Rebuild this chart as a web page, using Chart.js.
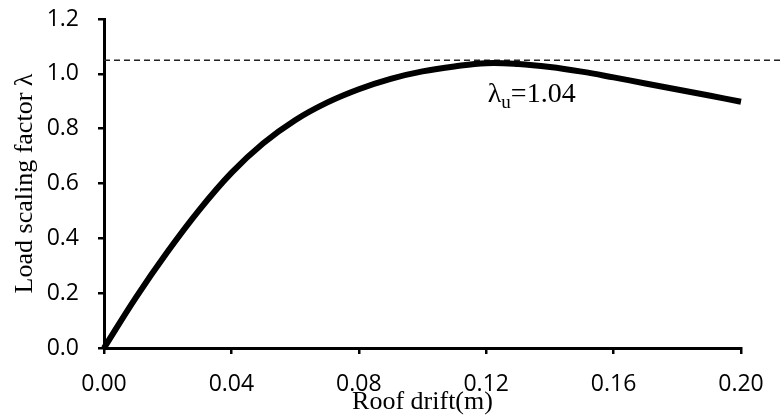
<!DOCTYPE html>
<html>
<head>
<meta charset="utf-8">
<script src="https://cdn.jsdelivr.net/npm/chart.js@4/dist/chart.umd.min.js"></script>
<style>
  html, body { margin: 0; padding: 0; background: #fff; }
  #wrap { width: 781px; height: 419px; }
</style>
</head>
<body>
<div id="wrap"><canvas id="myChart" width="781" height="419"></canvas></div>
<script>
// pushover curve
const drift = [0, 0.01, 0.02, 0.03, 0.04, 0.05, 0.06, 0.07, 0.08, 0.09, 0.10,
    0.11, 0.12, 0.13, 0.14, 0.15, 0.16, 0.17, 0.18, 0.19, 0.20]
const loadFactor = [0, 0.184, 0.352, 0.505, 0.639, 0.747, 0.831, 0.895, 0.944, 0.982, 1.009,
    1.027, 1.039, 1.036, 1.025, 1.008, 0.987, 0.965, 0.943, 0.921, 0.898]

// dashed ultimate level, runs past the axis to the edge
const ultimateDrift = [0, 0.2126]
const ultimateLevel = [1.05, 1.05]

const xTickLabels = ['0.00', '0.04', '0.08', '0.12', '0.16', '0.20']
const yTickLabels = ['0.0', '0.2', '0.4', '0.6', '0.8', '1.0', '1.2']

const annotation = { x: 0.1205, y: 0.897, symbol: 'λ', sub: 'u', text: '=1.04' }

const canvas = document.getElementById('myChart')

const labelPlugin = {
    id: 'lambdaLabel',
    afterDatasetsDraw(chart) {
        const ctx = chart.ctx
        const px = chart.scales.x.getPixelForValue(annotation.x)
        const py = chart.scales.y.getPixelForValue(annotation.y)
        ctx.save()
        ctx.fillStyle = '#000'
        ctx.textBaseline = 'alphabetic'
        ctx.textAlign = 'left'
        ctx.font = '28px "Liberation Serif"'
        ctx.fillText(annotation.symbol, px, py)
        let w = ctx.measureText(annotation.symbol).width
        ctx.font = '19px "Liberation Serif"'
        ctx.fillText(annotation.sub, px + w, py + 6)
        w += ctx.measureText(annotation.sub).width
        ctx.font = '28px "Liberation Serif"'
        ctx.fillText(annotation.text, px + w, py)
        ctx.restore()
    }
}

const tickFont = { family: '"Open Sans"', size: 23 }

const config = {
    type: 'line',
    data: {
        datasets: [{
            data: drift.map((d, i) => ({ x: d, y: loadFactor[i] })),
            borderColor: '#000',
            borderWidth: 6,
            pointRadius: 0,
            tension: 0.4,
            clip: false
        }, {
            data: ultimateDrift.map((d, i) => ({ x: d, y: ultimateLevel[i] })),
            borderColor: '#222',
            borderWidth: 1.5,
            borderDash: [6, 4],
            pointRadius: 0,
            clip: false
        }]
    },
    options: {
        responsive: false,
        animation: false,
        layout: {
            padding: { top: 19, right: 40, left: 0, bottom: 0 }
        },
        plugins: {
            legend: { display: false },
            tooltip: { enabled: false }
        },
        scales: {
            x: {
                type: 'linear',
                min: 0,
                max: 0.2,
                afterFit: (s) => {
                    s.height = 71
                    s.paddingLeft = 0
                    s.paddingRight = 0
                },
                afterBuildTicks: (s) => { s.ticks = xTickLabels.map(v => ({ value: parseFloat(v) })) },
                ticks: {
                    color: '#000',
                    font: tickFont,
                    padding: 17,
                    maxRotation: 0,
                    callback: (v, i) => xTickLabels[i]
                },
                grid: {
                    drawOnChartArea: false,
                    drawTicks: true,
                    tickLength: 6,
                    lineWidth: 2.5,
                    color: '#000'
                },
                border: { color: '#000', width: 3 },
                title: {
                    display: true,
                    text: 'Roof drift(m)',
                    color: '#000',
                    font: { family: '"Liberation Serif"', size: 26 },
                    padding: { top: 0, bottom: 1 }
                }
            },
            y: {
                min: 0,
                max: 1.2,
                afterFit: (s) => {
                    s.width = 104
                    s.paddingTop = 0
                    s.paddingBottom = 0
                },
                afterBuildTicks: (s) => { s.ticks = yTickLabels.map(v => ({ value: parseFloat(v) })) },
                ticks: {
                    color: '#000',
                    font: tickFont,
                    padding: 19,
                    callback: (v, i) => yTickLabels[i]
                },
                grid: {
                    drawOnChartArea: false,
                    drawTicks: true,
                    tickLength: 6,
                    lineWidth: 2.5,
                    color: '#000'
                },
                border: { color: '#000', width: 3 },
                title: {
                    display: true,
                    text: 'Load scaling factor λ',
                    color: '#000',
                    font: { family: '"Liberation Serif"', size: 26 },
                    padding: { top: 10, bottom: 0 }
                }
            }
        }
    },
    plugins: [labelPlugin]
}

if (canvas) {
    new Chart(canvas, config)
}
</script>
</body>
</html>
